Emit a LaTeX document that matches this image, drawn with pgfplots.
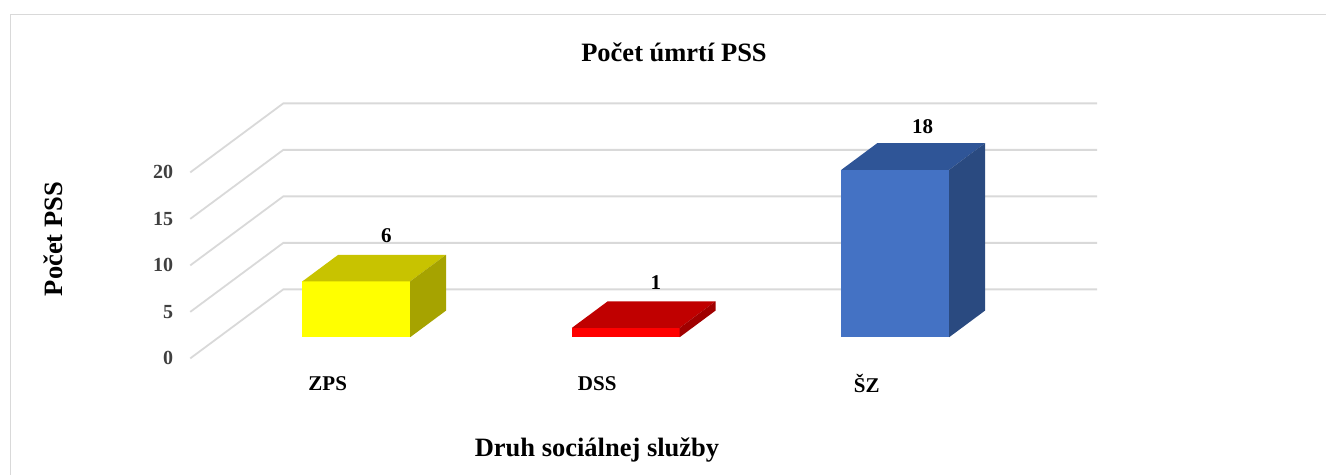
\documentclass[border=0pt]{standalone}
\usepackage{pgfplots}
\pgfplotsset{compat=1.18}
\usepackage{fontspec}
\setmainfont{Liberation Serif}
\definecolor{gridc}{HTML}{D9D9D9}
\definecolor{tickc}{HTML}{404040}
\definecolor{yF}{HTML}{FFFF00}
\definecolor{yT}{HTML}{C8C300}
\definecolor{yS}{HTML}{A6A300}
\definecolor{rF}{HTML}{FF0000}
\definecolor{rT}{HTML}{C00000}
\definecolor{rS}{HTML}{A00000}
\definecolor{bF}{HTML}{4472C4}
\definecolor{bT}{HTML}{2F5597}
\definecolor{bS}{HTML}{2A4A80}
\begin{document}
\begin{tikzpicture}[x=0.5pt,y=0.5pt]
\begin{axis}[
  x={(134.75pt,0pt)}, y={(46.5pt,34.5pt)}, z={(0pt,4.65pt)},
  xmin=-0.51, xmax=2.51, ymin=0, ymax=1, zmin=0, zmax=20,
  enlargelimits=false, clip=false,
  axis line style={draw=none},
  major tick length=0pt,
  xtick={0,1,2}, xticklabels={ZPS,DSS,ŠZ},
  ytick=\empty,
  ztick={0,5,10,15,20},
  grid=none,
  x tick label style={font=\fontsize{10.5}{12}\selectfont\bfseries, text=black, anchor=center, yshift=-12.5pt},
  z tick label style={font=\fontsize{10}{11}\selectfont\bfseries, text=tickc, anchor=east, xshift=-5pt},
  /pgf/number format/assume math mode=true,
]
\pgfplotsinvokeforeach{0,5,10,15,20}{
  \addplot3[gridc, line width=0.9pt] coordinates {(-0.51,0,#1) (-0.51,1,#1) (2.51,1,#1)};
}
% ZPS = 6
\addplot3[fill=yF, draw=none] coordinates {(-0.2,0.307,0) (0.2,0.307,0) (0.2,0.307,6) (-0.2,0.307,6)};
\addplot3[fill=yT, draw=none] coordinates {(-0.2,0.307,6) (0.2,0.307,6) (0.2,0.693,6) (-0.2,0.693,6)};
\addplot3[fill=yS, draw=none] coordinates {(0.2,0.307,0) (0.2,0.693,0) (0.2,0.693,6) (0.2,0.307,6)};
% DSS = 1
\addplot3[fill=rF, draw=none] coordinates {(0.8,0.307,0) (1.2,0.307,0) (1.2,0.307,1) (0.8,0.307,1)};
\addplot3[fill=rT, draw=none] coordinates {(0.8,0.307,1) (1.2,0.307,1) (1.2,0.693,1) (0.8,0.693,1)};
\addplot3[fill=rS, draw=none] coordinates {(1.2,0.307,0) (1.2,0.693,0) (1.2,0.693,1) (1.2,0.307,1)};
% SZ = 18
\addplot3[fill=bF, draw=none] coordinates {(1.8,0.307,0) (2.2,0.307,0) (2.2,0.307,18) (1.8,0.307,18)};
\addplot3[fill=bT, draw=none] coordinates {(1.8,0.307,18) (2.2,0.307,18) (2.2,0.693,18) (1.8,0.693,18)};
\addplot3[fill=bS, draw=none] coordinates {(2.2,0.307,0) (2.2,0.693,0) (2.2,0.693,18) (2.2,0.307,18)};
% data labels
\addplot3[draw=none, point meta=z, nodes near coords,
  every node near coord/.style={anchor=center, yshift=11.5pt, font=\fontsize{10.5}{12}\selectfont\bfseries, text=black}]
  coordinates {(0,0.63,6) (1,0.63,1) (2,0.6,18)};
\coordinate (O) at (axis cs:0,0,0);
\end{axis}
\pgfresetboundingbox
\begin{scope}[shift={(O)}]
\begin{scope}[shift={(-327.7,-116.6)}]
\path[use as bounding box] (0,0) rectangle (1326,475);
\draw[gridc, line width=0.8pt] (10.5,460.5) rectangle (1400,-50);
\node[font=\fontsize{13.25}{15}\selectfont\bfseries] at (674,423) {Počet úmrtí PSS};
\node[font=\fontsize{13.25}{15}\selectfont\bfseries] at (597,25) {Druh sociálnej služby};
\node[font=\fontsize{13.25}{15}\selectfont\bfseries, rotate=90] at (53,236) {Počet PSS};
\end{scope}
\end{scope}
\end{tikzpicture}
\end{document}
